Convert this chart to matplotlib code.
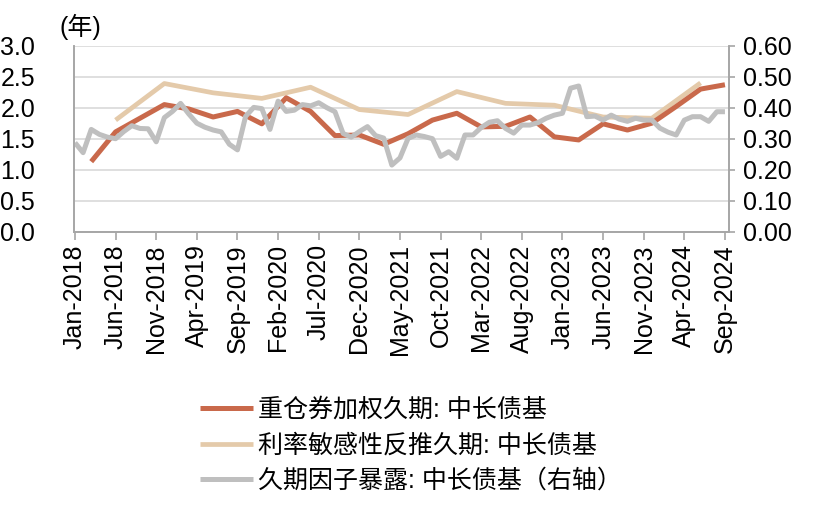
import matplotlib
matplotlib.use('Agg')
import matplotlib.pyplot as plt
import numpy as np
import pandas as pd

plt.rcParams['font.family'] = ['Liberation Sans', 'Noto Sans CJK SC', 'DejaVu Sans']

# ---- data ----
months = pd.period_range('2018-01', '2024-09', freq='M')
tick_labels = ['Jan-2018', 'Jun-2018', 'Nov-2018', 'Apr-2019', 'Sep-2019', 'Feb-2020',
               'Jul-2020', 'Dec-2020', 'May-2021', 'Oct-2021', 'Mar-2022', 'Aug-2022',
               'Jan-2023', 'Jun-2023', 'Nov-2023', 'Apr-2024', 'Sep-2024']

red_label = '重仓券加权久期: 中长债基'
red_months = ['2018-03', '2018-06', '2018-09', '2018-12', '2019-03', '2019-06', '2019-09',
              '2019-12', '2020-03', '2020-06', '2020-09', '2020-12', '2021-03', '2021-06',
              '2021-09', '2021-12', '2022-03', '2022-06', '2022-09', '2022-12', '2023-03',
              '2023-06', '2023-09', '2023-12', '2024-03', '2024-06', '2024-09']
red_values = [1.13, 1.61, 1.83, 2.05, 1.98, 1.85, 1.94, 1.74, 2.16, 1.94, 1.55, 1.56,
              1.41, 1.58, 1.80, 1.91, 1.69, 1.70, 1.85, 1.53, 1.48, 1.74, 1.64, 1.75,
              2.02, 2.30, 2.37]

beige_label = '利率敏感性反推久期: 中长债基'
beige_months = ['2018-06', '2018-12', '2019-06', '2019-12', '2020-06', '2020-12', '2021-06',
                '2021-12', '2022-06', '2022-12', '2023-06', '2023-12', '2024-06']
beige_values = [1.80, 2.39, 2.24, 2.15, 2.33, 1.97, 1.89, 2.26, 2.07, 2.04, 1.85, 1.83, 2.40]

gray_label = '久期因子暴露: 中长债基（右轴）'
gray_values = [0.287, 0.255, 0.330, 0.314, 0.305, 0.300, 0.323, 0.342, 0.333, 0.332,
               0.290, 0.368, 0.388, 0.414, 0.380, 0.350, 0.337, 0.328, 0.322, 0.282,
               0.264, 0.372, 0.401, 0.397, 0.330, 0.421, 0.388, 0.392, 0.410, 0.406,
               0.416, 0.400, 0.387, 0.317, 0.305, 0.323, 0.339, 0.310, 0.302, 0.215,
               0.238, 0.301, 0.312, 0.307, 0.300, 0.243, 0.258, 0.237, 0.312, 0.312,
               0.336, 0.353, 0.358, 0.333, 0.318, 0.344, 0.344, 0.352, 0.366, 0.376,
               0.382, 0.463, 0.470, 0.371, 0.373, 0.360, 0.376, 0.363, 0.356, 0.366,
               0.360, 0.360, 0.334, 0.321, 0.312, 0.360, 0.371, 0.371, 0.356, 0.387,
               0.387]

left_ticks = [0.0, 0.5, 1.0, 1.5, 2.0, 2.5, 3.0]
right_ticks = [0.0, 0.1, 0.2, 0.3, 0.4, 0.5, 0.6]

# ---- plot ----
month_idx = {str(p): i for i, p in enumerate(months)}
label_idx = [i for i, p in enumerate(months) if p.strftime('%b-%Y') in tick_labels]

RED = '#C9694B'
BEIGE = '#E4CAAA'
GRAY = '#BFBFBF'
GRID = '#D9D9D9'
AXC = '#A6A6A6'
FS = 18

fig = plt.figure(figsize=(8.15, 5.05), dpi=100)
ax = fig.add_axes([74 / 815, 1 - 231.7 / 505, (729 - 74) / 815, (231.7 - 45.7) / 505])
ax2 = ax.twinx()

l1a, = ax.plot([month_idx[m] for m in red_months], red_values, color=RED, lw=3.6,
               solid_joinstyle='round', solid_capstyle='butt', label=red_label)
l1b, = ax.plot([month_idx[m] for m in beige_months], beige_values, color=BEIGE, lw=3.4,
               solid_joinstyle='round', solid_capstyle='butt', label=beige_label)
l2, = ax2.plot(np.arange(len(gray_values)), gray_values, color=GRAY, lw=3.6,
               solid_joinstyle='round', solid_capstyle='butt', label=gray_label)
l1b.set_zorder(2)
l1a.set_zorder(3)

ax.set_xlim(-0.12, 80.5)
ax.set_ylim(0, 3.0)
ax2.set_ylim(0, 0.6)
ax.set_yticks(left_ticks)
ax.set_yticklabels([f'{v:.1f}' for v in left_ticks])
ax2.set_yticks(right_ticks)
ax2.set_yticklabels([f'{v:.2f}' for v in right_ticks])
ax.set_xticks(label_idx)
ax.set_xticklabels(tick_labels, rotation=90, fontsize=FS)

ax.grid(axis='y', color=GRID, lw=1.2)
ax.set_axisbelow(True)

for a in (ax, ax2):
    a.spines['top'].set_visible(False)
    for s in ('left', 'right', 'bottom'):
        a.spines[s].set_color(AXC)
        a.spines[s].set_linewidth(1.2)

ax.tick_params(axis='y', length=0, pad=28, labelsize=FS)
ax.tick_params(axis='x', length=6, width=1.2, color=AXC, pad=3, labelsize=FS)
ax2.tick_params(axis='y', length=4, width=1.2, color=AXC, pad=6, labelsize=FS)

fig.text(80 / 815, 1 - 27 / 505, '(年)', ha='center', va='center', fontsize=FS)

fig.legend(handles=[l1a, l1b, l2], loc='upper left', bbox_to_anchor=(190 / 815, 1 - 388 / 505),
           frameon=False, fontsize=FS, handlelength=2.1, handletextpad=0.2,
           labelspacing=0.45, borderaxespad=0)

fig.savefig('out.png', dpi=100)
